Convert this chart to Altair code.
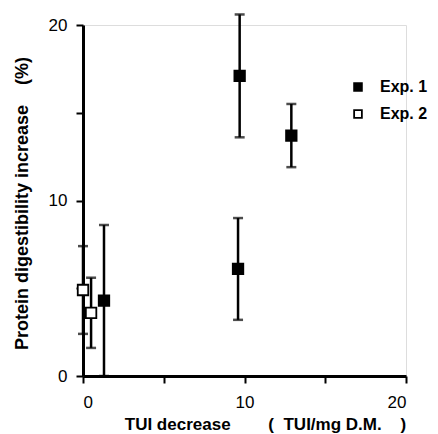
import altair as alt
import pandas as pd

# Exp. 1 (filled squares)
exp1_x = [1.3, 9.7, 9.6, 12.9]
exp1_y = [4.3, 17.1, 6.1, 13.7]
exp1_err = [4.3, 3.5, 2.9, 1.8]
# Exp. 2 (open squares)
exp2_x = [0.0, 0.5]
exp2_y = [4.9, 3.6]
exp2_err = [2.5, 2.0]

series_names = ["Exp. 1", "Exp. 2"]
x_ticks = [0, 5, 10, 15, 20]
y_ticks = [0, 5, 10, 15, 20]

rows = []
for x, y, e in zip(exp1_x, exp1_y, exp1_err):
    rows.append({"x": x, "y": y, "lo": y - e, "hi": y + e, "series": series_names[0]})
for x, y, e in zip(exp2_x, exp2_y, exp2_err):
    rows.append({"x": x, "y": y, "lo": y - e, "hi": y + e, "series": series_names[1]})
df = pd.DataFrame(rows)

FONT = "Liberation Sans"
NB = "\u00a0"

xscale = alt.Scale(domain=[0, 20], nice=False, zero=False)
yscale = alt.Scale(domain=[0, 20], nice=False, zero=False)

xaxis = alt.Axis(
    values=x_ticks,
    labelExpr="datum.value % 10 == 0 ? datum.value : ''",
    title="TUI decrease" + NB * 8 + "(" + NB * 2 + "TUI/mg D.M." + NB * 4 + ")",
    titleX=182, titleY=48, titleBaseline="middle", titleAnchor="middle",
    grid=False, domainColor="black", domainWidth=3, tickColor="black",
    tickWidth=2, tickSize=7, labelPadding=11, labelFontSize=17,
    labelFont=FONT, labelFontWeight="normal", labelColor="black",
    titleFont=FONT, titleFontSize=17, titleFontWeight="bold", titleColor="black",
)
yaxis = alt.Axis(
    values=y_ticks,
    labelExpr="datum.value % 10 == 0 ? datum.value : ''",
    title="Protein digestibility increase" + NB * 4 + "(%)",
    titleX=-61, titleY=178, titleAngle=270, titleBaseline="middle", titleAnchor="middle",
    grid=False, domainColor="black", domainWidth=3, tickColor="black",
    tickWidth=2, tickSize=7, labelPadding=9, labelFontSize=17,
    labelFont=FONT, labelFontWeight="normal", labelColor="black",
    titleFont=FONT, titleFontSize=18, titleFontWeight="bold", titleColor="black",
)

base = alt.Chart(df)

bars = base.mark_rule(color="black", strokeWidth=2.5).encode(
    x=alt.X("x:Q", scale=xscale, axis=xaxis),
    y=alt.Y("lo:Q", scale=yscale, axis=yaxis),
    y2="hi:Q",
)
cap_lo = base.mark_tick(color="black", orient="horizontal", size=10, thickness=2.5).encode(
    x="x:Q", y="lo:Q"
)
cap_hi = base.mark_tick(color="black", orient="horizontal", size=10, thickness=2.5).encode(
    x="x:Q", y="hi:Q"
)
points = base.mark_point(shape="square", filled=True, size=110, stroke="black",
                         strokeWidth=1.8, opacity=1).encode(
    x="x:Q", y="y:Q",
    fill=alt.Fill("series:N",
                  scale=alt.Scale(domain=series_names, range=["black", "white"]),
                  legend=alt.Legend(
                      title=None, orient="none", legendX=267, legendY=54,
                      symbolType="square", symbolSize=60, symbolStrokeColor="black",
                      symbolStrokeWidth=1.8, labelFont=FONT, labelFontSize=16,
                      labelFontWeight="bold", labelColor="black", labelOffset=14,
                      rowPadding=11,
                  )),
)

chart = (bars + cap_lo + cap_hi + points).properties(
    width=323, height=351,
    padding={"left": 83, "top": 25, "right": 32, "bottom": 58},
    autosize="none",
).configure_view(stroke=None).configure(background="white")

chart.save("out.html", embed_options={"renderer": "svg", "actions": False})
